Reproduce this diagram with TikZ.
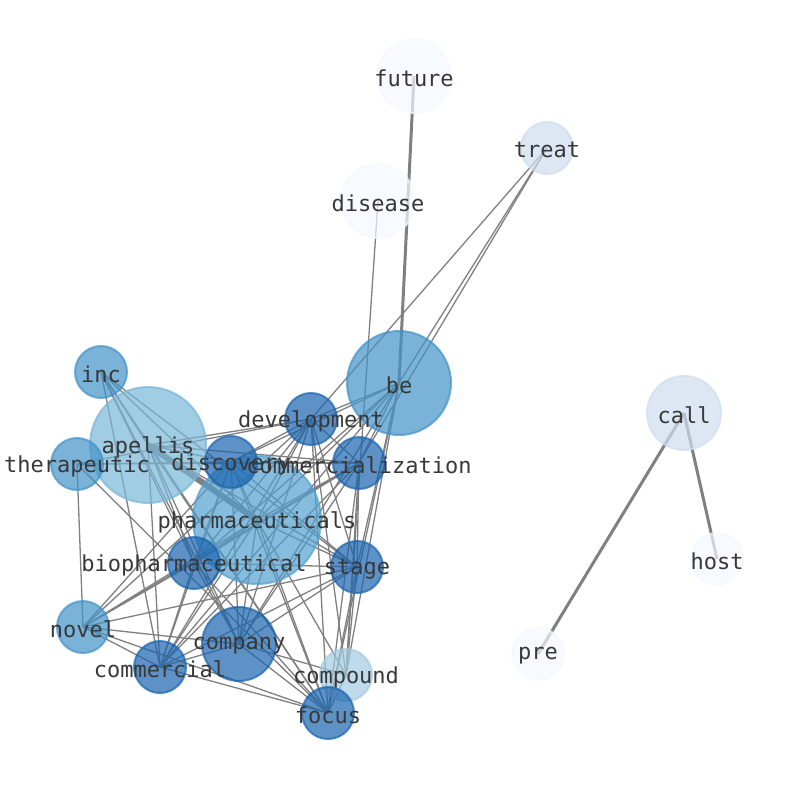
\documentclass[tikz,border=0pt]{standalone}
\usepackage{fontspec}
\newfontfamily\wordfont{DejaVu Sans Mono}
\usetikzlibrary{positioning}
\pgfdeclarelayer{background}
\pgfsetlayers{background,main}
\definecolor{toneA}{RGB}{25,100,175}
\definecolor{toneB}{RGB}{66,146,200}
\definecolor{toneC}{RGB}{120,182,216}
\definecolor{toneD}{RGB}{82,160,208}
\definecolor{toneE}{RGB}{162,203,226}
\definecolor{toneF}{RGB}{206,221,239}
\definecolor{toneG}{RGB}{244,248,254}
\tikzset{
  word/.style={circle,inner sep=0pt,line width=2pt,fill opacity=0.7,draw opacity=0.7},
  wordA/.style={word,fill=toneA,draw=toneA},
  wordB/.style={word,fill=toneB,draw=toneB},
  wordC/.style={word,fill=toneC,draw=toneC},
  wordD/.style={word,fill=toneD,draw=toneD},
  wordE/.style={word,fill=toneE,draw=toneE},
  wordF/.style={word,fill=toneF,draw=toneF},
  wordG/.style={word,fill=toneG,draw=toneG},
  link/.style={draw=gray,line width=1.3pt},
  wordtext/.style={font=\wordfont\fontsize{22}{24}\selectfont,text=black!78,inner sep=0pt,yshift=-2pt}
}
\begin{document}
\begin{tikzpicture}[x=1pt,y=-1pt]
    \useasboundingbox (0,0) rectangle (794,790);
    \node (future)   at (414,76)  [wordG,minimum size=74] {};
    \node (treat)    at (547,148) [wordF,minimum size=52] {};
    \node (disease)  at (378,201) [wordG,minimum size=74] {};
    \node (be)       at (399,383) [wordB,minimum size=104] {};
    \node (call)     at (684,413) [wordF,minimum size=74] {};
    \node (host)     at (717,559) [wordG,minimum size=52] {};
    \node (pre)      at (538,654) [wordG,minimum size=52] {};
    \node (inc)      at (101,372) [wordB,minimum size=52] {};
    \node (apellis)  at (148,445) [wordC,minimum size=116] {};
    \node (therapeutic) at (77,464) [wordB,minimum size=52] {};
    \node (pharmaceuticals) at (257,520) [wordD,minimum size=128] {};
    \node (discovery) at (231,462) [wordA,minimum size=52] {};
    \node (development) at (311,419) [wordA,minimum size=52] {};
    \node (commercialization) at (359,463) [wordA,minimum size=52] {};
    \node (biopharmaceutical) at (194,563) [wordA,minimum size=52] {};
    \node (stage)    at (357,567) [wordA,minimum size=52] {};
    \node (novel)    at (83,627)  [wordB,minimum size=52] {};
    \node (company)  at (239,644) [wordA,minimum size=74] {};
    \node (commercial) at (160,667) [wordA,minimum size=52] {};
    \node (compound) at (346,675) [wordE,minimum size=52] {};
    \node (focus)    at (328,713) [wordA,minimum size=52] {};

    \begin{pgfonlayer}{background}
    \foreach \a/\b in {
        inc/apellis, inc/pharmaceuticals, inc/commercial, inc/biopharmaceutical, inc/company, inc/stage, inc/focus,
        therapeutic/novel, therapeutic/development, therapeutic/commercialization, therapeutic/focus, therapeutic/discovery,
        apellis/commercial, apellis/stage, apellis/discovery, apellis/development, apellis/company, apellis/focus, apellis/biopharmaceutical, apellis/commercialization,
        pharmaceuticals/discovery, pharmaceuticals/development, pharmaceuticals/commercialization, pharmaceuticals/biopharmaceutical, pharmaceuticals/stage, pharmaceuticals/company, pharmaceuticals/commercial, pharmaceuticals/focus, pharmaceuticals/compound, pharmaceuticals/be, pharmaceuticals/novel,
        be/treat, be/development, be/discovery, be/commercialization, be/biopharmaceutical, be/stage, be/company, be/commercial, be/focus, be/compound,
        treat/development, treat/commercialization, disease/compound,
        development/discovery, development/commercialization, development/biopharmaceutical, development/stage, development/company, development/commercial, development/focus, development/compound, development/novel,
        discovery/commercialization, discovery/biopharmaceutical, discovery/stage, discovery/company, discovery/commercial, discovery/focus, discovery/novel,
        commercialization/stage, commercialization/company, commercialization/commercial, commercialization/focus, commercialization/compound, commercialization/novel,
        biopharmaceutical/stage, biopharmaceutical/company, biopharmaceutical/commercial, biopharmaceutical/novel, biopharmaceutical/focus,
        stage/company, stage/commercial, stage/focus, stage/compound, stage/novel,
        company/commercial, company/focus, company/novel, company/compound,
        commercial/focus, commercial/novel, focus/compound, focus/novel}
        \draw[link] (\a.center) -- (\b.center);
    \draw[link,line width=2pt] (biopharmaceutical.center) -- (commercialization.center);
    \draw[link,line width=6pt] (apellis.center) -- (pharmaceuticals.center);
    \draw[link,line width=3pt] (future.center) -- (be.center);
    \draw[link,line width=3pt] (call.center) -- (pre.center);
    \draw[link,line width=3pt] (call.center) -- (host.center);
    \end{pgfonlayer}

    \foreach \n in {future, treat, disease, be, call, host, pre, inc, apellis, therapeutic, pharmaceuticals, discovery, development, commercialization, biopharmaceutical, stage, novel, company, commercial, compound, focus}
        \node[wordtext] at (\n) {\n};
\end{tikzpicture}
\end{document}
